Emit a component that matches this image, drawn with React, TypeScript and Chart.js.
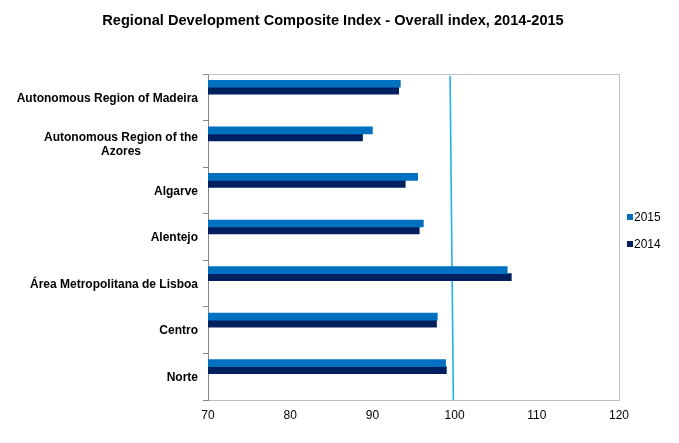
import { useEffect, useRef } from 'react';
import { Chart, registerables } from 'chart.js';

Chart.register(...registerables);

const chartTitle = 'Regional Development Composite Index - Overall index, 2014-2015';
const categories: string[][] = [
  ['Autonomous Region of Madeira'],
  ['Autonomous Region of the', 'Azores'],
  ['Algarve'],
  ['Alentejo'],
  ['Área Metropolitana de Lisboa'],
  ['Centro'],
  ['Norte'],
];
const seriesLabels = ['2015', '2014'];
const values2015 = [93.4, 90.0, 95.5, 96.2, 106.4, 97.9, 98.9];
const values2014 = [93.2, 88.8, 94.0, 95.7, 106.9, 97.8, 99.0];
const seriesColors = ['#0070C0', '#002060'];
const xMin = 70;
const xMax = 120;
const xStep = 10;
// the bar pair sits a little above the middle of its category band (as in the original)
const barGroupShift = 0.215;
const yMin = -0.5 + barGroupShift;
const yMax = categories.length - 0.5 + barGroupShift;
const referenceLineX = [99.45, 99.85];
const referenceLineY = [yMin + 0.04, yMax];

const FONT = '"Liberation Sans", Arial, sans-serif';

const decorPlugin = {
  id: 'decor',
  afterDraw(chart: any) {
    const ctx = chart.ctx as CanvasRenderingContext2D;
    const area = chart.chartArea;
    const yScale = chart.scales.y;
    ctx.save();
    ctx.strokeStyle = '#BFBFBF';
    ctx.lineWidth = 1;
    ctx.beginPath();
    ctx.moveTo(Math.round(area.left) + 0.5, Math.round(area.top) + 0.5);
    ctx.lineTo(Math.round(area.right) + 0.5, Math.round(area.top) + 0.5);
    ctx.lineTo(Math.round(area.right) + 0.5, Math.round(area.bottom) + 0.5);
    ctx.stroke();

    ctx.fillStyle = '#000';
    ctx.font = `bold 14.6px ${FONT}`;
    ctx.textAlign = 'center';
    ctx.textBaseline = 'middle';
    ctx.fillText(chartTitle, 333, 21);

    ctx.font = `bold 12px ${FONT}`;
    const blockRight = yScale.right - 10;
    const lineH = 13.5;
    categories.forEach((lines, i) => {
      const cy = yScale.getPixelForValue(i + barGroupShift);
      const maxW = Math.max(...lines.map((l) => ctx.measureText(l).width));
      const cx = blockRight - maxW / 2;
      lines.forEach((l, j) => {
        const y = cy + (j - (lines.length - 1) / 2) * lineH + 1;
        ctx.fillText(l, cx, y);
      });
    });

    ctx.font = `12px ${FONT}`;
    ctx.textAlign = 'left';
    const legendTops = [217, 244];
    seriesLabels.forEach((lab, i) => {
      const y = legendTops[i];
      ctx.fillStyle = seriesColors[i];
      ctx.fillRect(area.right + 8, y - 3, 6, 6);
      ctx.fillStyle = '#000';
      ctx.fillText(lab, area.right + 15, y + 0.5);
    });
    ctx.restore();
  },
};

export default function App() {
  const ref = useRef<HTMLCanvasElement | null>(null);
  useEffect(() => {
    document.body.style.margin = '0';
    if (!ref.current) return;
    const toPts = (vals: number[]) => vals.map((v, i) => ({ x: v, y: i }));
    const chart = new Chart(ref.current, {
      type: 'bar',
      data: {
        datasets: [
          { label: seriesLabels[0], data: toPts(values2015), backgroundColor: seriesColors[0], barThickness: 7 },
          { label: seriesLabels[1], data: toPts(values2014), backgroundColor: seriesColors[1], barThickness: 7 },
          {
            type: 'scatter',
            label: 'ref',
            indexAxis: 'x',
            data: referenceLineX.map((x, i) => ({ x, y: referenceLineY[i] })),
            xAxisID: 'x',
            yAxisID: 'y',
            showLine: true,
            borderColor: '#1FB4EA',
            backgroundColor: '#1FB4EA',
            borderWidth: 1.6,
            pointRadius: 0,
          } as any,
        ],
      },
      options: {
        indexAxis: 'y',
        animation: false,
        responsive: false,
        layout: { padding: { top: 74, left: 0, right: 60, bottom: 0 } },
        plugins: {
          legend: { display: false },
          title: { display: false },
          tooltip: { enabled: false },
        },
        scales: {
          x: {
            type: 'linear',
            min: xMin,
            max: xMax,
            offset: false,
            ticks: {
              stepSize: xStep,
              color: '#000',
              font: { family: FONT, size: 12 },
              padding: 8,
            },
            grid: { display: false, drawTicks: false, offset: false },
            border: { display: true, color: '#BFBFBF' },
            afterFit(s: any) {
              s.height = 43;
            },
          },
          y: {
            type: 'linear',
            reverse: true,
            min: yMin,
            max: yMax,
            offset: false,
            bounds: 'data',
            ticks: { display: false },
            grid: { drawOnChartArea: false, drawTicks: true, tickLength: 5, color: '#868686', offset: false },
            border: { display: true, color: '#868686' },
            afterBuildTicks(s: any) {
              s.ticks = categories.map((_, i) => ({ value: i - 0.5 + barGroupShift })).concat([{ value: yMax }]);
            },
            afterFit(s: any) {
              s.width = 208;
            },
          },
        },
      } as any,
      plugins: [decorPlugin],
    });
    return () => chart.destroy();
  }, []);
  return (
    <div style={{ width: 679, height: 443 }}>
      <canvas ref={ref} width={679} height={443} style={{ width: 679, height: 443, display: 'block' }} />
    </div>
  );
}
